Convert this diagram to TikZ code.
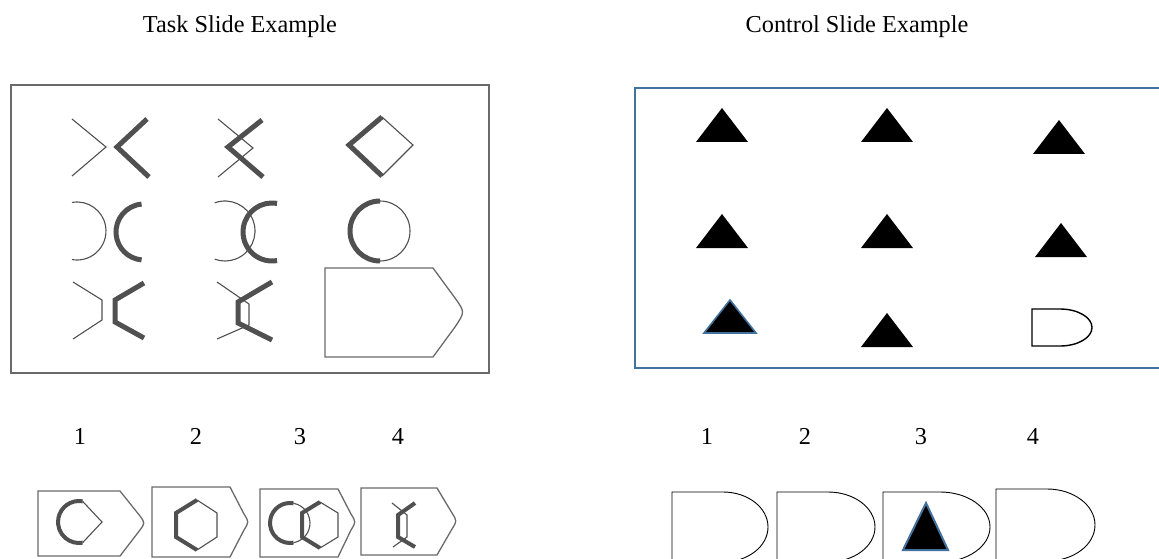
\documentclass[tikz,border=0pt]{standalone}
\usepackage{fontspec}
\setmainfont{Liberation Serif}
\usetikzlibrary{positioning}
\definecolor{slideblue}{RGB}{65,113,156}
\definecolor{scangray}{RGB}{80,80,80}

\begin{document}
\begin{tikzpicture}[x=1pt,y=-1pt, every node/.style={font=\fontsize{24.3}{29}\selectfont,inner sep=0pt,anchor=base},
  thn/.style={draw=scangray,line width=1.1pt},
  thk/.style={draw=scangray,line width=5pt,line join=miter,line cap=butt},
  thks/.style={thk,line width=4pt},
  frame/.style={draw=scangray!85,line width=1.3pt},
  tri/.style={fill=black},
  blutri/.style={fill=black,draw=slideblue,line width=1.6pt,line join=miter}]
  \clip (0,0) rectangle (1159,559);
  \fill[white] (0,0) rectangle (1159,559);

  \node (task) at (240,33) {Task Slide Example};
  \node (ctrl) at (857,33) {Control Slide Example};

  % task slide
  \draw[frame,line width=1.8pt] (11,85) rectangle (489,373);
  \draw[thn] (72,119) -- (106,147) -- (72,176);
  \draw[thk] (147,119) -- (117,147) -- (149,177);
  \draw[thn] (218,119) -- (253,148) -- (218,177);
  \draw[thk] (262,120) -- (228,147) -- (263,177);
  \draw[thn] (382,117) -- (413,145) -- (382,176);
  \draw[thk] (382,117) -- (349,145) -- (382,176);

  \draw[thn] (77,231) ++(-100:29) arc[start angle=-100,end angle=100,radius=29];
  \draw[thk] (144,232) ++(265:28) arc[start angle=265,end angle=95,radius=28];
  \draw[thn] (225,231) ++(-110:30) arc[start angle=-110,end angle=110,radius=30];
  \draw[thk] (272,232) ++(280:29) arc[start angle=280,end angle=80,radius=29];
  \draw[thn] (380,231) ++(-90:30) arc[start angle=-90,end angle=90,radius=30];
  \draw[thk] (380,231) ++(90:30) arc[start angle=90,end angle=270,radius=30];

  \draw[thn] (73,282) -- (102,300) -- (102,320) -- (73,339);
  \draw[thk] (144,283) -- (115,300) -- (115,322) -- (144,338);
  \draw[thn] (217,282) -- (249,304) -- (249,325) -- (217,339);
  \draw[thk] (272,282) -- (238,302) -- (238,323) -- (272,340);
  \draw[frame] (325,268) -- (433,268) -- (455,298) .. controls (465,312) .. (455,327) -- (433,357) -- (325,357) -- cycle;

  \node (n_1) at (80,444) {1};
  \node (n_2) at (196,444) {2};
  \node (n_3) at (300,444) {3};
  \node (n_4) at (398,444) {4};

  \draw[frame] (38,491) -- (120,491) -- (140,516) .. controls (145,523) .. (140,530) -- (120,556) -- (38,556) -- cycle;
  \draw[thks] (79,522) ++(280:21) arc[start angle=280,end angle=80,radius=21];
  \draw[thn] (82.6,501.3) -- (102,522) -- (82.6,542.7);

  \draw[frame] (152,487) -- (230,487) -- (244,514) .. controls (249,522) .. (244,530) -- (230,557) -- (152,557) -- cycle;
  \draw[thn] (197,500) -- (217,513) -- (217,537) -- (197,550);
  \draw[thks] (197,550) -- (176,537) -- (176,513) -- (197,500);

  \draw[frame] (260,489) -- (338,489) -- (351,514) .. controls (356,522) .. (351,530) -- (338,557) -- (260,557) -- cycle;
  \draw[thks] (290,523) ++(280:20) arc[start angle=280,end angle=80,radius=20];
  \draw[thn] (290,523) ++(-80:20) arc[start angle=-80,end angle=80,radius=20];
  \draw[thn] (320,502) -- (338,513) -- (338,537) -- (320,548);
  \draw[thks] (320,548) -- (302,537) -- (302,513) -- (320,502);

  \draw[frame] (361,488) -- (437,488) -- (452,513) .. controls (457,521) .. (452,529) -- (437,555) -- (361,555) -- cycle;
  \draw[thn] (392,503) -- (407,515) -- (407,537) -- (393,547);
  \draw[thks] (415,503) -- (398,515) -- (398,537) -- (415,547);

  % control slide
  \draw[slideblue,line width=1.8pt] (635,88) rectangle (1175,368);
  \foreach \x/\y in {722/108,887/108,1059/120,722/214,887/214,1061/223,887/313}
    \fill[tri] (\x,\y) -- ++(-26,34) -- ++(52,0) -- cycle;
  \draw[blutri] (730,300) -- ++(-26,33) -- ++(52,0) -- cycle;
  \draw[line width=1.4pt] (1060,309) -- (1032,309) -- (1032,346) -- (1060,346) arc[start angle=90,end angle=-90,x radius=32,y radius=18.5];

  \node (m_1) at (707,444) {1};
  \node (m_2) at (805,444) {2};
  \node (m_3) at (921,444) {3};
  \node (m_4) at (1033,444) {4};

  \draw[line width=0.9pt] (723,492) -- (672,492) -- (672,562) -- (723,562) arc[start angle=90,end angle=-90,x radius=45,y radius=35];
  \draw[line width=0.9pt] (828,492) -- (777,492) -- (777,562) -- (828,562) arc[start angle=90,end angle=-90,x radius=47,y radius=35];
  \draw[line width=0.9pt] (940,492) -- (883,492) -- (883,562) -- (940,562) arc[start angle=90,end angle=-90,x radius=50,y radius=35];
  \draw[line width=0.9pt] (1047,489) -- (996,489) -- (996,561) -- (1047,561) arc[start angle=90,end angle=-90,x radius=48,y radius=36];
  \draw[blutri,line width=2pt] (926,503) -- (903,550) -- (948,550) -- cycle;
\end{tikzpicture}
\end{document}
